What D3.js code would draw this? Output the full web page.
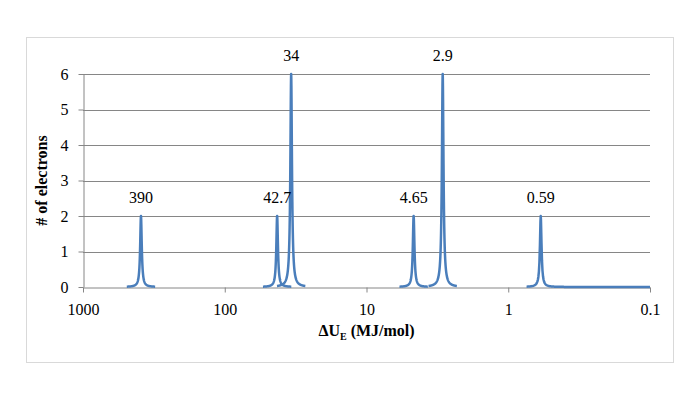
<!DOCTYPE html>
<html>
<head>
<meta charset="utf-8">
<script src="https://cdn.jsdelivr.net/npm/d3@7"></script>
<style>
  body { margin: 0; background: #fff; }
</style>
</head>
<body>
<div class="chart_container"></div>
<script>
// peaks: energy (MJ/mol) and number of electrons
const peakEnergy = [390, 42.7, 34, 4.65, 2.9, 0.59];
const peakCount = [2, 2, 6, 2, 6, 2];
const peakLabel = ['390', '42.7', '34', '4.65', '2.9', '0.59'];
const xTicks = [1000, 100, 10, 1, 0.1];
const xTickLabels = ['1000', '100', '10', '1', '0.1'];
const yTicks = [0, 1, 2, 3, 4, 5, 6];

const width = 694, height = 408;
const margin = {top: 74, right: 44, bottom: 121, left: 83};
const serif = '"Liberation Serif", "Times New Roman", "DejaVu Serif", serif';

// line shape (decades): half width and how far each drawn piece reaches
const halfWidth = 0.0068;
const reach = 0.1;

const svg = d3.select('.chart_container').append('svg')
  .attr('width', width)
  .attr('height', height)
  .attr('font-family', serif);

svg.append('rect')
  .attr('x', 26.5).attr('y', 37.5)
  .attr('width', 647).attr('height', 325)
  .attr('fill', '#fff')
  .attr('stroke', '#d9d9d9');

const x = d3.scaleLog()
  .domain([1000, 0.1])
  .range([margin.left, width - margin.right]);

const y = d3.scaleLinear()
  .domain([0, 6])
  .range([height - margin.bottom, margin.top]);

// gridlines
svg.append('g')
  .selectAll('line')
  .data(yTicks.slice(1))
  .enter().append('line')
    .attr('x1', x.range()[0]).attr('x2', x.range()[1])
    .attr('y1', d => Math.round(y(d)) + 0.5)
    .attr('y2', d => Math.round(y(d)) + 0.5)
    .attr('stroke', '#868686');

const xAxis = svg.append('g')
  .attr('transform', 'translate(0,' + (Math.round(y(0)) + 0.5) + ')')
  .call(d3.axisBottom(x).tickValues(xTicks)
    .tickFormat((d, i) => xTickLabels[i]).tickSizeInner(5).tickSizeOuter(0).tickPadding(11));

const yAxis = svg.append('g')
  .attr('transform', 'translate(' + (x.range()[0] + 0.5) + ',0)')
  .call(d3.axisLeft(y).tickValues(yTicks).tickFormat(d3.format('d'))
    .tickSizeInner(5).tickSizeOuter(0).tickPadding(10));

[xAxis, yAxis].forEach(a => {
  a.attr('font-family', serif).attr('font-size', 16);
  a.select('.domain').attr('stroke', '#868686');
  a.selectAll('.tick line').attr('stroke', '#868686');
  a.selectAll('.tick text').attr('fill', '#000');
});
yAxis.selectAll('.tick text').attr('dy', '0.34em');

// one curve per peak
const lx = Math.log10;
const pieces = peakEnergy.map((e, i) => {
  const from = lx(e) + reach;
  const to = i === peakEnergy.length - 1 ? lx(x.domain()[1]) : lx(e) - reach;
  const n = 240;
  const us = d3.range(n + 1).map(k => from + (to - from) * k / n);
  us.push(lx(e));
  us.sort((a, b) => b - a);
  return us.map(u => {
    const d = (u - lx(e)) / halfWidth;
    return [Math.pow(10, u), peakCount[i] / (1 + d * d)];
  });
});

const line = d3.line()
  .x(d => x(d[0]))
  .y(d => y(d[1]));

svg.append('g')
  .selectAll('path')
  .data(pieces)
  .enter().append('path')
    .attr('d', line)
    .attr('fill', 'none')
    .attr('stroke', '#4a7ebb')
    .attr('stroke-width', 2.5)
    .attr('stroke-linejoin', 'round');

svg.append('g')
  .selectAll('text')
  .data(peakEnergy)
  .enter().append('text')
    .attr('x', d => x(d))
    .attr('y', (d, i) => y(peakCount[i]) - 13)
    .attr('text-anchor', 'middle')
    .attr('font-size', 16)
    .text((d, i) => peakLabel[i]);

// axis titles
const xTitle = svg.append('text')
  .attr('x', (x.range()[0] + x.range()[1]) / 2)
  .attr('y', 336)
  .attr('text-anchor', 'middle')
  .attr('font-size', 16)
  .attr('font-weight', 'bold');
xTitle.append('tspan').text('ΔU');
xTitle.append('tspan').attr('dy', 4).attr('font-size', 10).text('E');
xTitle.append('tspan').attr('dy', -4).text(' (MJ/mol)');

svg.append('text')
  .attr('transform', 'translate(47,' + (y(3)) + ') rotate(-90)')
  .attr('text-anchor', 'middle')
  .attr('font-size', 16)
  .attr('font-weight', 'bold')
  .text('# of electrons');
</script>
</body>
</html>
